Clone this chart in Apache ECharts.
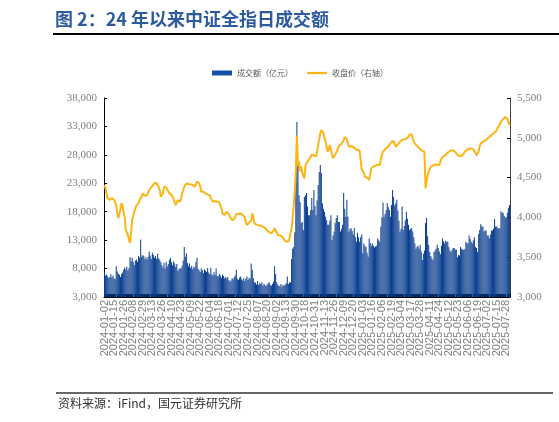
<!DOCTYPE html>
<html><head><meta charset="utf-8">
<script src="https://cdn.jsdelivr.net/npm/echarts@6/dist/echarts.min.js"></script>
<style>html,body{margin:0;padding:0;background:#fff}#c{width:559px;height:422px}</style>
</head><body><div id="c"></div>
<script>
// ---- data ----
const startDate = '2024-01-02';
const endDate = '2025-07-31';
const holidays = [
  '2024-01-01','2024-02-09','2024-02-12','2024-02-13','2024-02-14','2024-02-15','2024-02-16',
  '2024-04-04','2024-04-05','2024-05-01','2024-05-02','2024-05-03','2024-06-10',
  '2024-09-16','2024-09-17','2024-10-01','2024-10-02','2024-10-03','2024-10-04','2024-10-07',
  '2025-01-01','2025-01-28','2025-01-29','2025-01-30','2025-01-31','2025-02-03','2025-02-04',
  '2025-04-04','2025-05-01','2025-05-02','2025-05-05','2025-06-02'
];
const labelEvery = 9; // one date label every 9 trading days
// 成交额（亿元）
const volume = [
  7400,6800,6900,6600,6300,6500,7000,6400,6800,6300,
  6100,8400,7500,7100,6900,6500,7000,7300,7800,8200,
  7900,8300,7600,8100,10000,9300,9900,9200,8600,9400,
  9600,9200,10200,9900,13100,10100,10400,10200,9700,10000,
  9600,10100,11000,10300,9700,10800,10400,9900,10200,9700,
  10600,9800,9500,9100,8600,8200,9000,8000,9200,8400,
  8800,9500,9900,9100,8600,9300,8900,8300,8800,7600,
  7900,8100,8000,8500,9400,11800,10100,10700,9000,8400,
  8900,8100,8500,7900,8300,8200,9200,9900,8000,7700,
  7400,8000,7700,7200,7900,7600,7400,8100,7300,7000,
  8100,7000,6800,7400,6900,8000,6700,6600,7100,6800,
  6400,6900,6700,6300,6500,6200,6500,6000,5700,5900,
  6300,6100,6500,6800,7800,6200,6000,6400,6600,6100,
  5900,6300,5800,6200,6600,6000,6400,6200,8900,7800,
  6300,5600,5500,5200,5800,5100,5400,5300,5600,5000,
  5300,5100,4900,5200,5400,5600,5100,5000,5300,5700,
  8400,7000,5600,5200,5000,4900,5300,4800,5100,5000,
  5200,5400,6600,5300,5500,5600,9700,11500,11800,14400,
  25900,33800,26200,20900,19700,16000,16200,14800,20600,20900,
  21300,18900,17400,17400,18300,20400,18300,21800,19000,17400,
  20000,22700,25000,26200,24800,19500,18500,18000,17100,16500,
  15700,15700,16400,17400,13000,13800,14500,16000,16900,17400,
  16200,16200,14500,15000,15700,21300,18500,17100,20100,17100,
  14500,15000,15100,14600,14000,15100,13500,12700,14300,13500,
  12700,13500,14000,10700,12400,12000,11800,10800,10100,13300,
  12500,12000,12400,12000,11700,11900,12000,13300,13000,12700,
  15400,17000,19600,17100,17600,18300,19500,18800,18300,17100,
  19200,21800,20600,19100,19500,20100,18200,16400,14500,15000,
  18900,14800,15500,16500,18000,16800,15700,14800,15000,15100,
  14500,13500,12400,11500,11800,12000,11500,12200,11000,9500,
  10600,11200,16000,16900,13700,12200,10900,10200,9800,9500,
  10900,11200,11500,12200,11600,11000,10500,12000,13300,12800,
  12400,12900,12700,12700,11800,11200,10900,11300,11600,11600,
  11300,11300,10000,10400,10300,11800,11500,11300,11300,11400,
  12700,12500,12400,13800,13200,12700,12400,13000,13500,11800,
  11600,10900,14100,14800,15800,15400,15400,14500,14700,14700,
  13800,13800,13300,14000,14700,14700,15000,16700,15400,15400,
  15100,15100,15100,18100,17800,17800,17300,17000,17000,17800,
  18700,19200
];
// 收盘价（右轴）
const closePrice = [
  4407,4360,4300,4240,4225,4218,4230,4245,4225,4218,
  4190,4155,4050,3992,3967,4100,4180,4150,4055,4000,
  3842,3867,3780,3720,3678,3820,3967,4020,4070,4110,
  4150,4134,4180,4215,4240,4265,4300,4281,4270,4290,
  4280,4310,4344,4365,4380,4395,4410,4428,4440,4420,
  4407,4380,4344,4260,4250,4300,4386,4407,4380,4350,
  4330,4302,4310,4285,4260,4230,4190,4155,4175,4218,
  4225,4197,4230,4300,4340,4386,4410,4425,4435,4420,
  4405,4415,4400,4407,4390,4386,4420,4449,4445,4428,
  4390,4323,4340,4323,4310,4300,4290,4285,4275,4281,
  4240,4215,4197,4210,4205,4190,4200,4197,4185,4150,
  4113,4051,4060,4030,4050,4071,4065,4040,4009,3990,
  3967,3946,3980,4010,4040,4051,4045,4040,4050,4035,
  4030,4051,4000,3930,3904,3925,3935,3946,3960,4051,
  4000,3925,3920,3910,3905,3900,3904,3895,3890,3884,
  3884,3870,3850,3835,3821,3815,3810,3800,3800,3830,
  3863,3860,3810,3779,3785,3775,3765,3758,3737,3720,
  3705,3695,3690,3700,3735,3710,3860,3990,4150,4340,
  4600,5030,4650,4700,4580,4640,4560,4520,4490,4650,
  4680,4700,4720,4742,4760,4790,4805,4780,4770,4763,
  4830,4909,4980,5060,5098,5080,5050,5035,4950,4880,
  4825,4860,4909,4850,4790,4742,4760,4790,4805,4840,
  4880,4909,4915,4925,4930,4970,5010,5035,4980,4930,
  4888,4880,4895,4880,4888,4870,4860,4846,4850,4835,
  4840,4825,4600,4590,4560,4511,4525,4500,4480,4469,
  4540,4616,4620,4640,4658,4650,4640,4660,4655,4658,
  4730,4790,4825,4840,4855,4867,4880,4895,4909,4930,
  4950,4972,4960,4920,4888,4900,4915,4930,4950,4960,
  4972,4972,4980,4985,4990,4993,5010,5040,5056,5040,
  4990,4950,4930,4910,4895,4888,4870,4860,4846,4835,
  4830,4825,4365,4450,4530,4574,4610,4637,4645,4650,
  4658,4665,4670,4660,4650,4658,4700,4740,4763,4770,
  4775,4784,4800,4815,4825,4835,4840,4846,4850,4830,
  4815,4805,4790,4775,4763,4770,4780,4784,4800,4825,
  4846,4850,4855,4860,4865,4867,4860,4855,4846,4810,
  4780,4763,4830,4900,4930,4940,4950,4955,4965,4972,
  4985,4995,5010,5020,5035,5045,5055,5065,5077,5100,
  5130,5150,5170,5202,5220,5235,5250,5260,5265,5240,
  5200,5160
];
const seriesNames = ['成交额（亿元）', '收盘价（右轴）'];
const titleText = '图 2：24 年以来中证全指日成交额';
const sourceText = '资料来源：iFind，国元证券研究所';

// trading-day categories
function buildDates() {
  const out = [];
  const d = new Date(startDate + 'T00:00:00Z');
  const end = new Date(endDate + 'T00:00:00Z');
  while (d <= end) {
    const wd = d.getUTCDay();
    const s = d.toISOString().slice(0, 10);
    if (wd !== 0 && wd !== 6 && holidays.indexOf(s) < 0) out.push(s);
    d.setUTCDate(d.getUTCDate() + 1);
  }
  return out;
}
const dates = buildDates();

const chart = echarts.init(document.getElementById('c'), null, {renderer: 'canvas'});
const gray = '#7f7f7f';
const barColor = '#083C8F';
const lineColor = '#FDB515';
chart.setOption({
  animation: false,
  backgroundColor: '#fff',
  grid: {left: 104, right: 49, top: 98, bottom: 125},
  legend: {
    left: 207, top: 64, itemWidth: 20, itemHeight: 5, itemGap: 14,
    textStyle: {fontSize: 8, color: '#595959', fontFamily: 'Noto Sans CJK SC'},
    data: [
      {name: seriesNames[0], icon: 'rect', itemStyle: {color: '#1450A6'}},
      {name: seriesNames[1], icon: 'path://M0,0h20v2.2h-20z', itemStyle: {color: lineColor}}
    ]
  },
  xAxis: {
    type: 'category', data: dates, boundaryGap: true,
    axisLine: {lineStyle: {color: '#000', width: 1}},
    axisTick: {show: true, interval: 0, inside: true, length: 3, lineStyle: {color: '#000'}},
    axisLabel: {interval: 0, rotate: 90, fontSize: 11, color: gray, margin: 3,
      fontFamily: 'Liberation Sans', hideOverlap: false,
      formatter: (val, idx) => (idx % labelEvery === 0 ? val : '')}
  },
  yAxis: [{
    type: 'value', min: 3000, max: 38000, interval: 5000,
    axisLine: {show: true, lineStyle: {color: '#000'}},
    axisTick: {show: true, inside: true, length: 3, lineStyle: {color: '#000'}},
    axisLabel: {color: gray, fontSize: 11, fontFamily: 'Liberation Sans Narrow', margin: 7},
    splitLine: {show: false}
  }, {
    type: 'value', position: 'right', min: 3000, max: 5500, interval: 500,
    axisLine: {show: true, lineStyle: {color: '#404040'}},
    axisTick: {show: true, inside: true, length: 3, lineStyle: {color: '#000'}},
    axisLabel: {color: gray, fontSize: 11, fontFamily: 'Liberation Sans Narrow', margin: 7,
      formatter: v => v.toLocaleString('en-US')},
    splitLine: {show: false}
  }],
  series: [{
    name: seriesNames[0], type: 'bar', data: volume, yAxisIndex: 0,
    itemStyle: {color: barColor}, barCategoryGap: '8%'
  }, {
    name: seriesNames[1], type: 'line', data: closePrice, yAxisIndex: 1,
    symbol: 'none', showSymbol: false,
    lineStyle: {color: lineColor, width: 2}, itemStyle: {color: lineColor}
  }],
  graphic: [
    {type: 'text', left: 55, top: 10, style: {text: titleText, fill: '#2E5B9F',
      font: 'bold 18px "Noto Sans CJK SC", sans-serif'}},
    {type: 'line', shape: {x1: 53, y1: 34, x2: 559, y2: 34}, style: {stroke: '#000', lineWidth: 2}},
    {type: 'line', shape: {x1: 56, y1: 393, x2: 553, y2: 393}, style: {stroke: '#333', lineWidth: 1.5}},
    {type: 'text', left: 58, top: 397, style: {text: sourceText, fill: '#333',
      font: '12px "Noto Sans CJK SC", sans-serif'}}
  ]
});
</script>
</body></html>
